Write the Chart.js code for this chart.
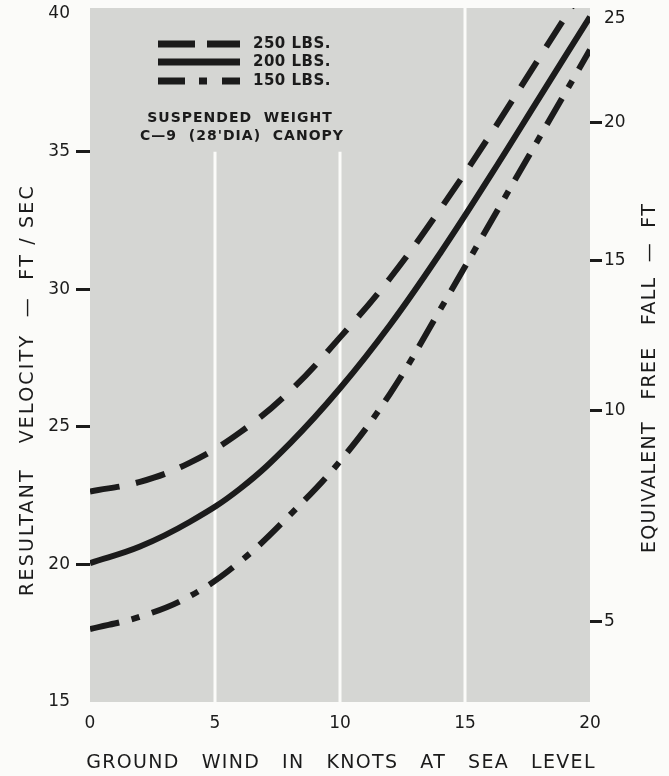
<!DOCTYPE html>
<html lang="en">
<head>
<meta charset="UTF-8">
<title>Resultant velocity vs ground wind – C-9 canopy</title>
<script src="https://cdn.jsdelivr.net/npm/chart.js"></script>
<style>
  body { margin: 0; background: #fbfbf9; }
  .wrap { position: relative; width: 669px; height: 776px; }
</style>
</head>
<body>
<div class="wrap"><canvas id="chart"></canvas></div>
<script>
  // ground wind (knots) and resultant velocity (ft/sec) per suspended weight
  const windKnots = [0, 2, 4, 6, 8, 10, 12, 14, 16, 18, 20];
  const lbs250 = [22.65, 23.0, 23.7, 24.8, 26.3, 28.25, 30.4, 32.9, 35.6, 38.45, 41.3];
  const lbs200 = [20.05, 20.65, 21.55, 22.75, 24.4, 26.4, 28.7, 31.3, 34.1, 37.0, 39.9];
  const lbs150 = [17.65, 18.1, 18.85, 20.1, 21.8, 23.75, 26.2, 29.25, 32.4, 35.55, 38.7];

  const xTicks = [0, 5, 10, 15, 20];
  const velocityTicks = [15, 20, 25, 30, 35, 40];
  const freeFallLabels = [5, 10, 15, 20, 25];
  const freeFallAt = [17.93, 25.6, 31.05, 36.05, 39.85];   // velocity where each free-fall tick sits
  const gridX = [5, 10, 15];
  const gridTop = [35, 35, 40.22];

  const ink = '#1b1b1b';
  const paper = '#fbfbf9';
  const font = 'DejaVu Sans';
  const dash250 = [30, 17];
  const dash150 = [30, 13, 8, 13];

  const pts = ys => windKnots.map((x, i) => ({ x: x, y: ys[i] }));

  const datasets = [
    { label: '250 LBS.', data: pts(lbs250), borderDash: dash250 },
    { label: '200 LBS.', data: pts(lbs200), borderDash: [] },
    { label: '150 LBS.', data: pts(lbs150), borderDash: dash150 }
  ].map(d => Object.assign(d, {
    borderColor: ink, borderWidth: 6, pointRadius: 0,
    tension: 0.4, borderCapStyle: 'butt', clip: 0, order: 1
  }));

  gridX.forEach((x, i) => datasets.push({
    label: 'grid', data: [{ x: x, y: 15 }, { x: x, y: gridTop[i] }],
    borderColor: paper, borderWidth: 3, pointRadius: 0, tension: 0, clip: 0, order: 5
  }));

  function text(ctx, str, x, y, size, opts) {
    opts = opts || {};
    ctx.save();
    ctx.translate(x, y);
    if (opts.rot) ctx.rotate(opts.rot);
    ctx.font = (opts.weight || 'normal') + ' ' + size + 'px "' + font + '"';
    ctx.letterSpacing = (opts.spacing || 0) + 'px';
    ctx.textAlign = opts.align || 'center';
    ctx.textBaseline = 'middle';
    ctx.fillStyle = ink;
    ctx.fillText(str, 0, 0);
    ctx.restore();
  }

  const decor = {
    id: 'decor',
    beforeDraw(chart) {
      const { ctx, chartArea: a } = chart;
      ctx.save();
      ctx.fillStyle = '#d5d6d3';
      ctx.fillRect(a.left, a.top, a.right - a.left, a.bottom - a.top);
      ctx.restore();
    },
    afterDraw(chart) {
      const { ctx } = chart;
      // legend
      const rows = [[[37, 12], '250 LBS.', 44], [[], '200 LBS.', 62], [[27, 14, 8, 15], '150 LBS.', 81]];
      rows.forEach(r => {
        ctx.save();
        ctx.strokeStyle = ink;
        ctx.lineWidth = 7;
        ctx.setLineDash(r[0]);
        ctx.beginPath();
        ctx.moveTo(158, r[2]);
        ctx.lineTo(240, r[2]);
        ctx.stroke();
        ctx.restore();
        text(ctx, r[1], 253, r[2], 15, { align: 'left', spacing: 0.5, weight: 'bold' });
      });
      text(ctx, 'SUSPENDED  WEIGHT', 240, 118, 14, { weight: 'bold', spacing: 1 });
      text(ctx, 'C—9  (28\'DIA)  CANOPY', 242, 136, 14, { weight: 'bold', spacing: 1 });
      // axis titles
      text(ctx, 'RESULTANT   VELOCITY  —  FT / SEC', 28, 390, 19, { rot: -Math.PI / 2, spacing: 2.2 });
      text(ctx, 'EQUIVALENT   FREE   FALL  —  FT', 650, 378, 19, { rot: -Math.PI / 2, spacing: 1.2 });
      text(ctx, 'GROUND   WIND   IN   KNOTS   AT   SEA   LEVEL', 341, 763, 19, { spacing: 1.3 });
    }
  };

  const tickFont = { family: font, size: 17 };

  new Chart(document.getElementById('chart'), {
    type: 'line',
    data: { datasets: datasets },
    plugins: [decor],
    options: {
      responsive: true,
      maintainAspectRatio: false,
      animation: false,
      layout: { padding: { top: 8, left: 0, right: 0, bottom: 0 } },
      plugins: { legend: { display: false }, tooltip: { enabled: false } },
      scales: {
        x: {
          type: 'linear', min: 0, max: 20,
          afterBuildTicks: s => { s.ticks = xTicks.map(v => ({ value: v })); },
          grid: { display: false },
          border: { display: false },
          ticks: { color: ink, font: tickFont, padding: 3 },
          afterFit: s => { s.height = 74; s.paddingLeft = 0; s.paddingRight = 0; }
        },
        y: {
          min: 15, max: 40.22,
          afterBuildTicks: s => { s.ticks = velocityTicks.map(v => ({ value: v })); },
          grid: {
            drawOnChartArea: false, tickLength: 14, lineWidth: 3,
            color: c => (c.tick && (c.tick.value === 15 || c.tick.value === 40)) ? 'rgba(0,0,0,0)' : ink
          },
          border: { display: false },
          ticks: { color: ink, font: tickFont, padding: 6 },
          afterFit: s => { s.width = 90; s.paddingTop = 0; s.paddingBottom = 0; }
        },
        y2: {
          position: 'right', min: 15, max: 40.22,
          afterBuildTicks: s => { s.ticks = freeFallAt.map(v => ({ value: v })); },
          grid: {
            drawOnChartArea: false, tickLength: 12, lineWidth: 3,
            color: c => c.index === freeFallLabels.length - 1 ? 'rgba(0,0,0,0)' : ink
          },
          border: { display: false },
          ticks: { color: ink, font: tickFont, padding: 2, callback: (v, i) => freeFallLabels[i] },
          afterFit: s => { s.width = 79; s.paddingTop = 0; s.paddingBottom = 0; }
        }
      }
    }
  });
</script>
</body>
</html>
